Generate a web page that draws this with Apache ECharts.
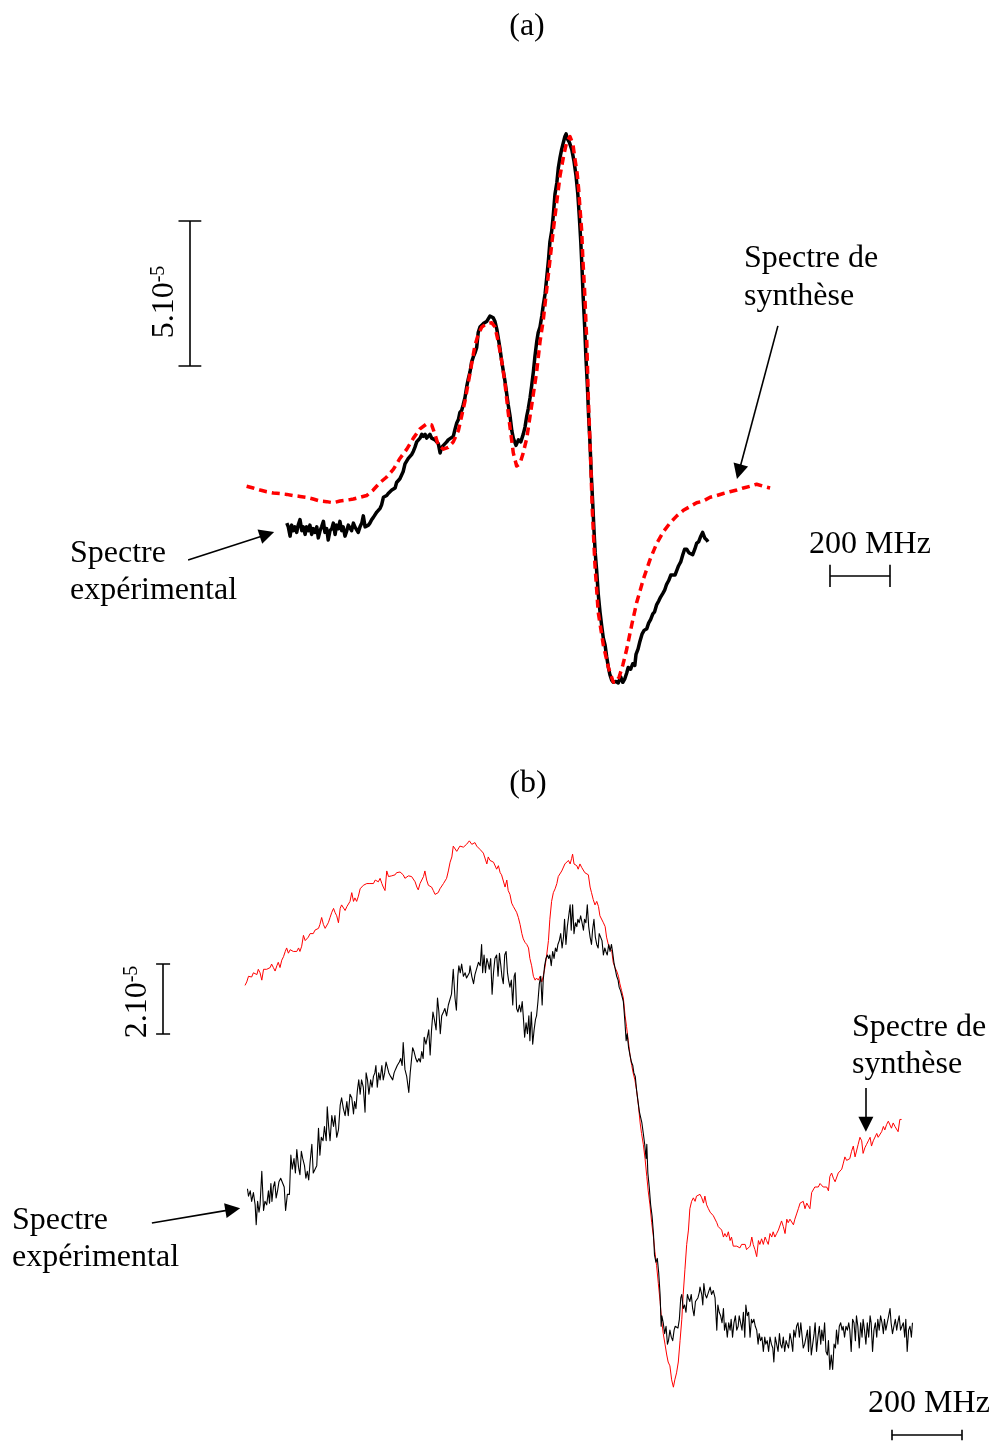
<!DOCTYPE html>
<html><head><meta charset="utf-8">
<script src="https://cdn.jsdelivr.net/npm/echarts/dist/echarts.min.js"></script>
<style>html,body{margin:0;padding:0;background:#fff}#c{width:992px;height:1443px}</style>
</head><body><div id="c"></div>
<script>
// Panel (a): x = frequency offset (MHz), y = signal in units of 1e-6
const expA = [[156,61.0],[161,59.7],[167,56.5],[172,60.3],[178,58.4],[183,59.7],[189,57.8],[194,60.3],[200,62.2],[206,58.4],[211,59.7],[217,57.1],[222,59.7],[228,58.4],[233,60.3],[239,57.1],[244,59.1],[250,57.8],[256,59.7],[261,55.9],[267,58.4],[272,59.7],[278,61.6],[283,57.8],[289,59.1],[294,55.2],[300,58.4],[306,59.1],[311,61.0],[317,57.1],[322,60.3],[328,59.1],[333,61.6],[339,58.4],[344,59.7],[350,56.5],[356,58.4],[361,60.3],[367,59.7],[372,58.4],[378,61.0],[383,59.7],[389,60.3],[394,57.8],[400,59.7],[406,61.0],[411,63.5],[417,59.7],[422,59.1],[428,60.3],[433,61.0],[439,62.2],[444,62.9],[450,63.5],[456,64.8],[461,64.8],[467,66.1],[472,67.3],[478,69.9],[483,69.3],[489,70.5],[494,71.2],[500,71.8],[506,72.4],[511,71.8],[517,73.1],[522,75.0],[528,74.4],[533,76.3],[539,76.9],[544,78.8],[550,81.4],[556,81.4],[561,83.3],[567,83.9],[572,84.6],[578,85.8],[583,87.1],[589,89.0],[594,89.0],[600,90.3],[606,91.6],[611,90.9],[617,91.6],[622,90.3],[628,90.9],[633,91.6],[639,90.3],[644,90.9],[650,89.7],[656,90.3],[661,88.4],[667,85.2],[672,87.1],[678,87.8],[683,88.4],[689,89.0],[694,89.7],[700,90.3],[711,90.9],[717,93.5],[722,95.4],[728,96.7],[733,99.2],[739,99.9],[744,101.8],[750,104.3],[756,108.2],[761,110.7],[767,113.3],[772,116.5],[778,118.4],[783,119.6],[789,121.6],[794,126.7],[800,128.6],[806,129.2],[811,129.8],[817,129.8],[822,130.5],[828,131.1],[833,132.4],[839,133.0],[844,131.8],[850,130.5],[856,127.9],[861,124.7],[867,120.9],[872,117.1],[878,113.3],[883,110.1],[889,105.6],[894,101.8],[900,98.0],[906,92.9],[911,90.3],[920,87.8],[928,89.7],[936,89.0],[944,91.6],[950,94.1],[956,98.0],[961,100.5],[967,104.3],[972,108.2],[978,113.3],[983,118.4],[989,123.5],[994,126.7],[1000,128.6],[1006,132.4],[1011,136.2],[1017,140.1],[1022,145.2],[1028,151.5],[1033,157.9],[1039,161.7],[1044,166.8],[1050,174.5],[1056,178.3],[1061,183.4],[1067,187.2],[1072,189.8],[1078,192.3],[1083,194.3],[1087,195.2],[1091,193.6],[1098,192.3],[1106,189.8],[1113,186.0],[1120,180.9],[1126,174.5],[1131,166.8],[1136,157.9],[1140,149.0],[1144,138.8],[1149,128.6],[1153,118.4],[1158,108.2],[1162,98.0],[1167,87.8],[1171,77.6],[1176,67.3],[1180,58.4],[1184,50.8],[1189,44.4],[1194,36.7],[1200,30.4],[1206,25.3],[1211,21.4],[1217,18.9],[1222,15.1],[1228,11.2],[1233,8.7],[1239,6.8],[1244,6.1],[1253,6.4],[1261,5.9],[1269,8.0],[1276,6.1],[1283,7.4],[1289,9.3],[1294,11.2],[1302,10.6],[1309,12.5],[1316,11.9],[1320,15.7],[1327,17.6],[1333,20.2],[1340,22.7],[1347,24.0],[1356,24.6],[1362,26.5],[1369,27.8],[1376,29.7],[1382,30.4],[1389,32.9],[1396,34.2],[1402,35.5],[1409,36.7],[1416,38.0],[1422,39.9],[1429,41.2],[1436,43.1],[1442,43.7],[1450,43.1],[1456,43.7],[1462,46.3],[1469,47.6],[1476,50.1],[1482,52.0],[1489,52.0],[1496,50.8],[1502,51.4],[1509,50.1],[1516,52.0],[1522,54.0],[1529,54.6],[1536,56.5],[1542,57.8],[1549,55.9],[1556,55.2],[1560,54.6]];

const synA = [[22,73.7],[44,73.1],[67,72.4],[89,71.8],[111,71.4],[133,71.2],[156,70.9],[178,70.5],[200,70.2],[222,69.9],[244,69.3],[267,68.6],[289,68.4],[311,68.0],[333,68.6],[356,68.9],[378,69.3],[400,69.9],[422,70.5],[444,72.4],[467,75.0],[489,76.9],[511,79.5],[533,83.3],[556,86.5],[578,90.3],[600,93.5],[622,95.2],[639,94.8],[650,91.6],[661,87.8],[678,86.5],[694,87.1],[711,89.0],[728,92.9],[739,98.0],[750,103.1],[761,109.4],[772,115.8],[783,122.2],[794,126.0],[806,128.6],[822,129.8],[839,130.1],[850,128.6],[861,123.5],[872,117.1],[883,109.4],[894,99.2],[900,94.1],[911,85.2],[922,80.7],[933,81.4],[944,85.2],[956,90.3],[967,98.0],[978,105.6],[989,113.3],[1000,123.5],[1011,131.1],[1022,141.3],[1033,151.5],[1044,161.7],[1056,171.9],[1067,180.9],[1078,187.2],[1089,192.5],[1100,194.3],[1110,191.5],[1117,186.2],[1124,181.5],[1129,176.0],[1133,170.0],[1139,161.7],[1143,151.7],[1148,142.6],[1156,123.4],[1161,104.5],[1168,85.2],[1174,66.2],[1183,46.9],[1194,30.3],[1211,19.0],[1228,11.2],[1244,6.2],[1253,6.1],[1264,8.0],[1276,12.0],[1289,17.5],[1306,26.0],[1322,33.5],[1344,41.5],[1367,48.5],[1389,54.0],[1411,58.0],[1433,61.0],[1456,63.5],[1478,65.4],[1500,66.7],[1522,68.0],[1544,68.6],[1567,69.9],[1589,70.5],[1611,71.2],[1633,71.8],[1656,72.4],[1678,73.1],[1700,73.7],[1722,74.4],[1744,73.7],[1767,73.1]];

// Panel (b): x = frequency (MHz), y = signal in units of 1e-7
const expB = [[707,575],[710,554],[715,569],[719,539],[724,564],[729,529],[732,472],[736,539],[740,508],[743,529],[748,625],[753,513],[757,539],[762,529],[767,569],[770,534],[774,590],[777,539],[781,580],[785,595],[789,549],[793,569],[797,595],[802,605],[807,610],[812,580],[816,513],[821,559],[827,559],[831,671],[835,631],[840,661],[844,620],[848,687],[853,636],[857,615],[861,682],[865,661],[870,641],[874,605],[878,625],[882,600],[886,651],[891,702],[895,620],[900,620],[905,641],[910,748],[914,671],[918,722],[923,712],[927,753],[932,712],[935,809],[939,753],[943,712],[948,784],[953,753],[957,784],[962,722],[967,743],[972,814],[976,835],[981,804],[986,784],[991,824],[995,784],[1000,845],[1005,835],[1010,789],[1013,824],[1017,804],[1021,855],[1025,886],[1029,845],[1033,886],[1038,865],[1043,794],[1046,906],[1050,886],[1054,845],[1059,886],[1063,865],[1067,896],[1071,906],[1074,927],[1078,865],[1082,906],[1086,886],[1091,927],[1095,886],[1099,906],[1103,937],[1107,942],[1111,906],[1116,896],[1122,886],[1126,906],[1130,916],[1135,927],[1141,937],[1145,947],[1149,927],[1152,993],[1157,916],[1162,896],[1168,850],[1172,906],[1175,906],[1179,978],[1183,967],[1188,947],[1192,937],[1197,947],[1201,937],[1205,967],[1209,947],[1212,1008],[1217,988],[1221,1008],[1225,1029],[1229,957],[1233,1029],[1237,1080],[1241,1059],[1246,1029],[1250,1120],[1254,1080],[1258,1018],[1262,1069],[1267,1080],[1271,1090],[1276,1069],[1281,1100],[1286,1100],[1290,1131],[1295,1202],[1300,1120],[1304,1085],[1308,1182],[1311,1212],[1315,1192],[1319,1217],[1324,1182],[1329,1192],[1333,1177],[1341,1192],
[1343,1212],[1348,1182],[1353,1161],[1357,1187],[1362,1192],[1367,1222],[1372,1212],[1376,1273],[1379,1192],[1383,1243],[1387,1192],[1391,1233],[1394,1222],[1398,1202],[1402,1233],[1406,1131],[1410,1192],[1414,1233],[1419,1243],[1423,1182],[1427,1248],[1431,1212],[1434,1182],[1438,1161],[1442,1243],[1446,1253],[1450,1192],[1453,1171],[1457,1151],[1461,1171],[1465,1100],[1469,1182],[1472,1192],[1476,1090],[1480,1080],[1484,1100],[1488,1080],[1492,1110],[1495,1069],[1499,1008],[1503,1049],[1507,1018],[1511,1069],[1514,998],[1518,1080],[1522,988],[1526,1029],[1530,1059],[1533,1069],[1537,1110],[1541,1161],[1545,1182],[1549,1100],[1552,1171],[1556,1212],[1560,1233],[1564,1243],[1568,1233],[1571,1243],[1575,1212],[1579,1253],[1583,1233],[1587,1263],[1591,1253],[1594,1273],[1598,1284],[1602,1304],[1606,1263],[1610,1294],[1613,1345],[1617,1273],[1621,1324],[1625,1355],[1629,1386],[1632,1314],[1636,1386],[1640,1304],[1644,1335],[1648,1324],[1651,1345],[1655,1335],[1659,1355],[1663,1335],[1667,1314],[1670,1345],[1674,1335],[1678,1386],[1682,1324],[1686,1294],[1690,1273],[1693,1314],[1697,1345],[1701,1294],[1705,1273],[1709,1263],[1712,1304],[1716,1294],[1720,1284],[1724,1243],[1728,1263],[1731,1253],[1735,1243],[1739,1273],[1743,1253],[1747,1273],[1750,1253],[1754,1222],[1758,1202],[1762,1182],[1766,1171],[1769,1151],[1773,1141],[1777,1146],[1781,1110],[1785,1059],[1789,998],[1792,1018],[1796,978],[1800,957],[1804,937],[1808,927],[1811,906],[1815,896],[1819,855],[1823,824],[1827,794],[1830,799],[1834,763],[1838,733],[1842,702],[1846,661],[1848,702],[1851,620],[1855,580],[1859,529],[1863,498],[1867,447],[1870,386],[1874,365],[1878,376],[1882,335],[1886,273],[1889,182],[1891,212],[1895,192],[1899,161],[1903,182],[1907,131],[1910,141],[1914,171],[1918,151],[1922,141],[1926,171],[1929,182],[1933,187],[1937,177],[1941,202],[1945,263],[1948,273],[1952,233],[1956,243],[1960,222],[1964,273],[1967,263],[1971,253],[1975,273],[1979,233],[1983,212],[1987,253],[1990,253],[1994,263],[1998,279],
[2000,294],[2005,273],[2008,243],[2011,304],[2015,273],[2019,263],[2024,279],[2029,294],[2033,273],[2038,284],[2043,263],[2048,171],[2051,243],[2055,222],[2059,212],[2063,192],[2067,233],[2070,171],[2074,192],[2078,151],[2082,192],[2086,171],[2089,202],[2093,151],[2097,192],[2101,212],[2105,171],[2109,182],[2112,212],[2116,192],[2120,171],[2124,222],[2128,151],[2131,243],[2135,212],[2139,222],[2143,151],[2147,202],[2150,192],[2154,202],[2158,182],[2162,171],[2166,131],[2169,161],[2173,141],[2177,151],[2181,110],[2185,151],[2188,131],[2192,141],[2196,110],[2200,151],[2204,131],[2208,120],[2211,80],[2215,151],[2219,131],[2223,110],[2227,161],[2230,131],[2234,120],[2238,151],[2242,110],[2246,141],[2249,131],[2253,120],[2257,161],[2261,141],[2265,110],[2268,171],[2272,151],[2276,182],[2280,192],[2284,151],[2288,192],[2291,161],[2295,120],[2299,131],[2303,151],[2307,171],[2310,110],[2314,182],[2318,100],[2322,131],[2326,161],[2329,192],[2333,110],[2337,151],[2341,182],[2345,131],[2348,171],[2352,141],[2356,192],[2360,110],[2364,100],[2367,141],[2371,59],[2375,100],[2379,59],[2383,131],[2387,120],[2390,171],[2394,131],[2398,182],[2402,192],[2406,171],[2409,182],[2413,151],[2417,182],[2421,171],[2425,192],[2428,171],[2432,110],[2436,202],[2440,192],[2444,141],[2447,212],[2451,182],[2455,120],[2459,192],[2463,151],[2466,202],[2470,171],[2474,131],[2478,192],[2482,151],[2486,212],[2489,192],[2493,110],[2497,171],[2501,192],[2505,151],[2508,202],[2512,171],[2516,212],[2520,192],[2524,161],[2527,202],[2531,171],[2535,192],[2539,212],[2543,233],[2546,192],[2550,161],[2554,182],[2558,202],[2562,171],[2565,192],[2569,212],[2573,171],[2577,182],[2581,192],[2585,151],[2588,202],[2592,110],[2596,171],[2600,182],[2604,151],[2607,192]];

const synB = [[700,1156],[705,1166],[710,1182],[715,1187],[719,1180],[724,1192],[729,1197],[734,1187],[738,1202],[743,1192],[748,1171],[753,1202],[757,1207],[762,1202],[767,1197],[772,1207],[776,1217],[781,1207],[786,1197],[791,1212],[795,1222],[800,1207],[805,1228],[810,1238],[815,1253],[819,1263],[824,1248],[829,1258],[834,1253],[838,1253],[843,1258],[848,1253],[853,1263],[857,1253],[862,1268],[867,1299],[872,1284],[876,1289],[881,1294],[886,1304],[891,1299],[895,1304],[900,1314],[905,1309],[910,1319],[914,1330],[919,1350],[924,1330],[929,1319],[934,1324],[938,1335],[943,1350],[948,1365],[953,1376],[957,1365],[962,1355],[967,1335],[972,1376],[976,1386],[981,1381],[986,1370],[991,1381],[995,1386],[1000,1396],[1005,1421],[1010,1396],[1014,1406],[1019,1396],[1024,1411],[1029,1432],[1033,1427],[1038,1442],[1043,1437],[1048,1447],[1053,1442],[1057,1447],[1062,1452],[1067,1447],[1072,1457],[1076,1462],[1081,1452],[1086,1462],[1091,1447],[1095,1437],[1100,1427],[1105,1483],[1110,1467],[1114,1467],[1119,1469],[1124,1467],[1129,1472],[1133,1478],[1138,1476],[1143,1480],[1148,1483],[1152,1472],[1157,1462],[1162,1462],[1167,1469],[1172,1472],[1176,1467],[1181,1462],[1186,1452],[1191,1437],[1195,1429],[1200,1447],[1205,1442],[1210,1467],[1214,1483],[1219,1457],[1224,1442],[1229,1447],[1233,1437],[1238,1427],[1243,1416],[1248,1411],[1252,1421],[1257,1432],[1262,1437],[1267,1447],[1271,1452],[1276,1462],[1281,1483],[1286,1508],[1291,1523],[1295,1554],[1300,1549],[1305,1539],[1310,1544],[1314,1554],[1319,1549],[1324,1551],[1329,1554],[1333,1559],[1341,1569],
[1343,1574],[1348,1559],[1353,1554],[1357,1564],[1362,1554],[1367,1559],[1372,1544],[1376,1549],[1381,1534],[1386,1529],[1391,1503],[1395,1523],[1400,1513],[1405,1518],[1410,1508],[1414,1503],[1419,1488],[1424,1498],[1429,1478],[1433,1472],[1438,1467],[1443,1437],[1448,1457],[1452,1427],[1457,1416],[1462,1391],[1467,1381],[1472,1376],[1476,1365],[1481,1350],[1486,1330],[1491,1304],[1495,1289],[1500,1279],[1505,1273],[1510,1263],[1514,1233],[1519,1212],[1524,1182],[1529,1171],[1533,1177],[1538,1171],[1543,1182],[1548,1166],[1552,1182],[1557,1207],[1562,1243],[1567,1284],[1571,1345],[1576,1396],[1581,1421],[1586,1432],[1591,1447],[1595,1467],[1600,1462],[1605,1483],[1610,1488],[1614,1503],[1619,1498],[1624,1513],[1629,1503],[1633,1518],[1636,1531],[1640,1503],[1644,1508],[1648,1498],[1652,1488],[1657,1503],[1662,1493],[1667,1488],[1671,1478],[1676,1483],[1681,1472],[1686,1437],[1690,1421],[1695,1401],[1700,1386],[1705,1396],[1710,1381],[1714,1355],[1719,1350],[1724,1335],[1729,1324],[1733,1294],[1738,1273],[1743,1263],[1748,1253],[1752,1222],[1757,1207],[1762,1197],[1767,1182],[1771,1161],[1776,1141],[1781,1120],[1786,1069],[1790,1039],[1795,998],[1800,957],[1805,927],[1809,906],[1814,886],[1819,855],[1824,814],[1829,763],[1833,733],[1838,702],[1843,661],[1848,610],[1852,569],[1857,529],[1862,478],[1867,437],[1871,396],[1876,355],[1881,304],[1886,253],[1890,202],[1895,161],[1900,131],[1905,100],[1909,80],[1914,69],[1919,29],[1924,8],[1928,29],[1933,49],[1938,80],[1943,141],[1948,202],[1952,273],[1957,345],[1962,416],[1967,457],[1971,518],[1976,539],[1981,549],[1986,539],[1990,554],[1995,559],
[2000,559],[2005,549],[2010,534],[2014,554],[2019,529],[2024,518],[2029,508],[2033,503],[2038,498],[2043,493],[2048,478],[2052,467],[2057,472],[2062,457],[2067,437],[2071,447],[2076,437],[2081,452],[2086,427],[2090,437],[2095,411],[2100,416],[2105,411],[2109,416],[2114,406],[2119,416],[2124,411],[2129,416],[2133,401],[2138,406],[2143,411],[2148,437],[2152,416],[2157,401],[2162,381],[2167,427],[2171,416],[2176,432],[2181,416],[2186,437],[2190,427],[2195,416],[2200,447],[2205,437],[2209,452],[2214,437],[2219,447],[2224,457],[2228,452],[2233,483],[2238,467],[2243,447],[2248,488],[2252,478],[2257,488],[2262,493],[2267,472],[2271,488],[2276,503],[2281,518],[2286,534],[2290,529],[2295,539],[2300,518],[2305,534],[2309,529],[2314,518],[2319,564],[2324,569],[2328,580],[2333,585],[2338,580],[2343,590],[2348,585],[2352,580],[2357,575],[2362,580],[2367,569],[2371,610],[2376,620],[2381,605],[2386,595],[2390,600],[2395,620],[2400,625],[2405,631],[2409,646],[2414,666],[2419,656],[2424,651],[2428,661],[2433,682],[2438,697],[2443,666],[2447,671],[2452,702],[2457,722],[2462,712],[2466,676],[2471,692],[2476,702],[2481,712],[2486,722],[2490,697],[2495,712],[2500,717],[2505,733],[2509,722],[2514,722],[2519,738],[2524,753],[2528,743],[2533,758],[2538,768],[2543,773],[2547,748],[2552,763],[2557,753],[2562,748],[2566,738],[2571,773],[2576,773]];

// Scale bars (amplitude bar: 5.10^-5 = 50 units in (a), 2.10^-5 = 200 units in (b); frequency bar: 200 MHz)
const scaleBarA = {ampAt:-167, ampFrom:115.2, ampTo:165.2, ampCap:38, freqAt:42.8, freqFrom:1967, freqTo:2167, freqCap:3.8};
const scaleBarB = {ampAt:466, ampFrom:1017, ampTo:1217, ampCap:20, freqAt:-128.6, freqFrom:2548, freqTo:2748, freqCap:15};
// Pointer arrows [from, to]
const arrowsA = [[[-173,48.3],[90,57.1]], [[1793,129.0],[1663,78.7]]];
const arrowsB = [[[434,477],[665,516]], [[2474,863],[2474,759]]];

const FONT = '"Liberation Serif","Times New Roman",serif';
const labels = [
  {t:'(a)', x:527, y:27, a:'center'},
  {t:'Spectre de', x:744, y:259, a:'left'},
  {t:'synthèse', x:744, y:297, a:'left'},
  {t:'Spectre', x:70, y:554, a:'left'},
  {t:'expérimental', x:70, y:591, a:'left'},
  {t:'200 MHz', x:870, y:545, a:'center'},
  {t:'(b)', x:528, y:784, a:'center'},
  {t:'Spectre de', x:852, y:1028, a:'left'},
  {t:'synthèse', x:852, y:1065, a:'left'},
  {t:'Spectre', x:12, y:1221, a:'left'},
  {t:'expérimental', x:12, y:1258, a:'left'},
  {t:'200 MHz', x:929, y:1404, a:'center'}
];
const ampLabels = [
  {main:'5.10', sup:'-5', x:165, y:302},
  {main:'2.10', sup:'-5', x:138, y:1002}
];

function barSegments(s){
  return [
    [[s.ampAt, s.ampFrom],[s.ampAt, s.ampTo]],
    [[s.ampAt - s.ampCap, s.ampFrom],[s.ampAt + s.ampCap, s.ampFrom]],
    [[s.ampAt - s.ampCap, s.ampTo],[s.ampAt + s.ampCap, s.ampTo]],
    [[s.freqFrom, s.freqAt],[s.freqTo, s.freqAt]],
    [[s.freqFrom, s.freqAt - s.freqCap],[s.freqFrom, s.freqAt + s.freqCap]],
    [[s.freqTo, s.freqAt - s.freqCap],[s.freqTo, s.freqAt + s.freqCap]]
  ].map(c => ({coords:c}));
}
function linesSeries(idx, segs, arrow){
  return {
    type:'lines', coordinateSystem:'cartesian2d', xAxisIndex:idx, yAxisIndex:idx,
    data: segs, silent:true, animation:false,
    symbol: arrow ? ['none','triangle'] : ['none','none'],
    symbolSize: arrow ? 15 : 0,
    lineStyle:{color:'#000', width:1.6, opacity:1, curveness:0},
    itemStyle:{color:'#000'}, z:5
  };
}
function spectrum(idx, data, color, width, dash, z){
  return {
    type:'line', xAxisIndex:idx, yAxisIndex:idx, data:data, showSymbol:false, symbol:'none',
    animation:false, smooth:false, silent:true, z:z,
    lineStyle:{color:color, width:width, type: dash || 'solid', join:'round', cap:'butt'}
  };
}

const chart = echarts.init(document.getElementById('c'), null, {renderer:'canvas', width:992, height:1443});
chart.setOption({
  backgroundColor:'#ffffff',
  animation:false,
  grid:[
    {left:0, top:120, width:990, height:580},
    {left:0, top:830, width:980, height:612.5}
  ],
  xAxis:[
    {gridIndex:0, type:'value', min:-800, max:2500, show:false},
    {gridIndex:1, type:'value', min:0, max:2800, show:false}
  ],
  yAxis:[
    {gridIndex:0, type:'value', min:0, max:200, show:false},
    {gridIndex:1, type:'value', min:-150, max:1600, show:false}
  ],
  series:[
    spectrum(0, expA, '#000000', 3.5, null, 2),
    spectrum(0, synA, '#ff0000', 3.5, [8,5], 3),
    spectrum(1, synB, '#ff0000', 1, null, 2),
    spectrum(1, expB, '#000000', 1.1, null, 3),
    linesSeries(0, barSegments(scaleBarA), false),
    linesSeries(1, barSegments(scaleBarB), false),
    linesSeries(0, arrowsA.map(c => ({coords:c})), true),
    linesSeries(1, arrowsB.map(c => ({coords:c})), true)
  ],
  graphic: labels.map(l => ({
    type:'text', x:l.x, y:l.y, silent:true,
    style:{text:l.t, font:'32px ' + FONT, fill:'#000', align:l.a, verticalAlign:'middle'}
  })).concat(ampLabels.map(l => ({
    type:'text', x:l.x, y:l.y, rotation:Math.PI/2, silent:true,
    style:{
      text:'{n|' + l.main + '}{s|' + l.sup + '}',
      align:'center', verticalAlign:'middle', fill:'#000',
      rich:{
        n:{fontSize:32, fontFamily:FONT, fill:'#000', lineHeight:32},
        s:{fontSize:20, fontFamily:FONT, fill:'#000', lineHeight:20, verticalAlign:'top'}
      }
    }
  })))
});
</script></body></html>
